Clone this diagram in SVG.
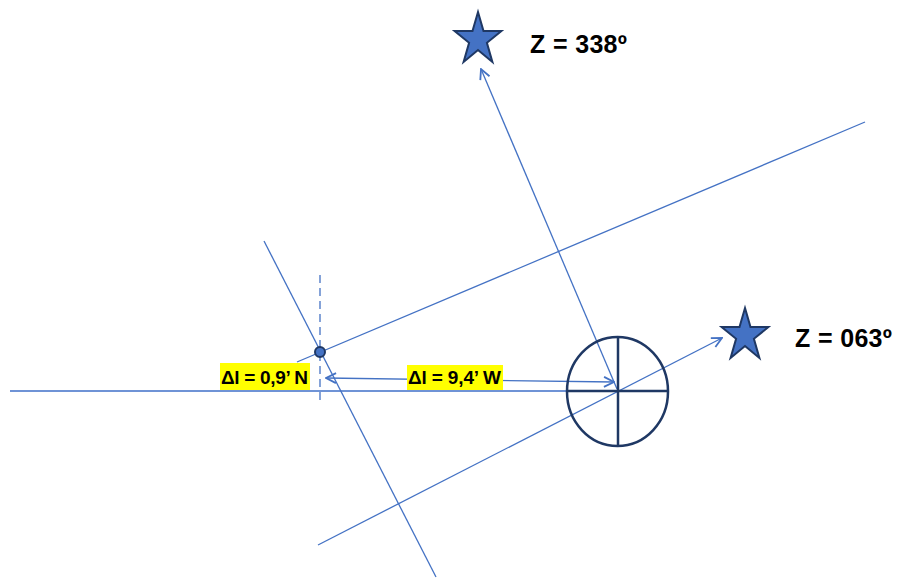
<svg xmlns="http://www.w3.org/2000/svg" width="902" height="579" viewBox="0 0 902 579">
<style>
.ln{stroke:#4472C4;stroke-width:1.3;fill:none}
.sym{stroke:#1F3864;stroke-width:2.5;fill:none}
.star{fill:#4472C4;stroke:#1F3864;stroke-width:2;stroke-linejoin:miter}
.lbl{font-family:"Liberation Sans",Arial,sans-serif;font-weight:bold;fill:#000}
.hl{fill:#FFFF00}
</style>
<defs>
<marker id="ah" viewBox="0 0 12 12" refX="11" refY="6" markerWidth="12" markerHeight="12" markerUnits="userSpaceOnUse" orient="auto-start-reverse">
<path d="M1,1 L11,6 L1,11" fill="none" stroke="#4472C4" stroke-width="1.8"/>
</marker>
<path id="starShape" d="M0,-27.6 L5.5,-8.5 L23.4,-8.5 L8.9,3.2 L14.4,22.3 L0,10.5 L-14.4,22.3 L-8.9,3.2 L-23.4,-8.5 L-5.5,-8.5 Z"/>
</defs>
<g id="connectors">
<line x1="10" y1="391" x2="567" y2="391" stroke="#6F93D6" stroke-width="2"/>
<line class="ln" x1="297" y1="362" x2="865" y2="122"/>
<line class="ln" x1="264" y1="241" x2="436" y2="577"/>
<line class="ln" x1="320" y1="275" x2="320" y2="403" stroke-dasharray="8,5"/>
<line class="ln" x1="318" y1="545" x2="722" y2="338" marker-end="url(#ah)"/>
<line class="ln" x1="617" y1="389" x2="481" y2="69" marker-end="url(#ah)"/>
<line class="ln" x1="326" y1="378" x2="614" y2="382" marker-start="url(#ah)" marker-end="url(#ah)"/>
</g>
<g id="position-fix">
<circle cx="320" cy="352" r="5" fill="#4472C4" stroke="#1F3864" stroke-width="2"/>
</g>
<g id="dr-position">
<ellipse class="sym" cx="617.5" cy="391.5" rx="50.5" ry="54.5"/>
<line class="sym" x1="618" y1="337" x2="618" y2="446"/>
<line class="sym" x1="567" y1="391" x2="668" y2="391"/>
</g>
<g id="star-338">
<use href="#starShape" class="star" transform="translate(478,39.6)"/>
<text class="lbl" x="530" y="53" font-size="25" textLength="97">Z = 338º</text>
</g>
<g id="star-063">
<use href="#starShape" class="star" transform="translate(745,335.6)"/>
<text class="lbl" x="795" y="347" font-size="25" textLength="97">Z = 063º</text>
</g>
<g id="label-dl-n">
<rect class="hl" x="220" y="363" width="90" height="27"/>
<text class="lbl" x="221" y="384" font-size="19" textLength="87">Δl = 0,9’ N</text>
</g>
<g id="label-dl-w">
<rect class="hl" x="407" y="365" width="96" height="25"/>
<text class="lbl" x="408" y="384" font-size="19" textLength="93">Δl = 9,4’ W</text>
</g>
</svg>
